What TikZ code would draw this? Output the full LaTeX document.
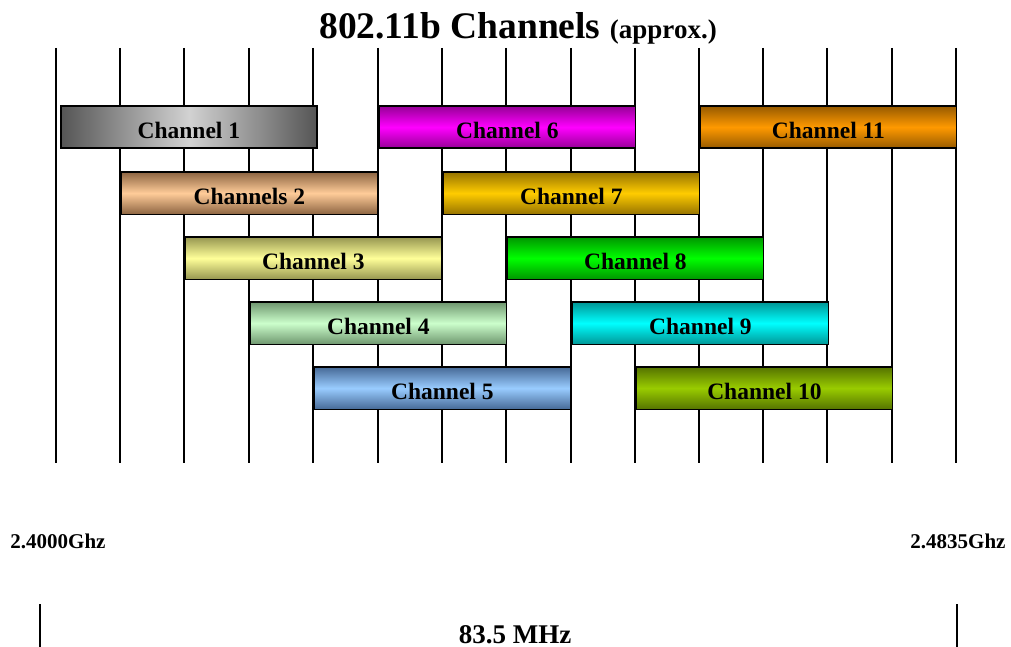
\documentclass[tikz,border=0pt]{standalone}
\usepackage{fontspec}
\setmainfont{Liberation Serif}
\definecolor{c2d}{RGB}{140,100,65}\definecolor{c2l}{RGB}{255,204,153}
\definecolor{c3d}{RGB}{150,150,80}\definecolor{c3l}{RGB}{255,255,153}
\definecolor{c4d}{RGB}{110,150,110}\definecolor{c4l}{RGB}{204,255,204}
\definecolor{c5d}{RGB}{70,105,150}\definecolor{c5l}{RGB}{153,204,255}
\definecolor{c6d}{RGB}{150,0,150}\definecolor{c6l}{RGB}{255,0,255}
\definecolor{c7d}{RGB}{150,115,0}\definecolor{c7l}{RGB}{255,204,0}
\definecolor{c8d}{RGB}{0,150,0}\definecolor{c8l}{RGB}{0,255,0}
\definecolor{c9d}{RGB}{0,150,150}\definecolor{c9l}{RGB}{0,255,255}
\definecolor{c10d}{RGB}{85,115,0}\definecolor{c10l}{RGB}{153,204,0}
\definecolor{c11d}{RGB}{150,90,0}\definecolor{c11l}{RGB}{255,153,0}
\definecolor{c1d}{RGB}{85,85,85}\definecolor{c1l}{RGB}{210,210,210}
\begin{document}
\begin{tikzpicture}[x=1pt,y=-1pt,
  gridline/.style={line width=1.5pt},
  chbox/.style 2 args={draw=black, line width=1.8pt, top color=#1, bottom color=#1, middle color=#2,
     minimum width=256pt, minimum height=42.5pt, inner sep=0pt, anchor=north west,
     text height=22pt, text depth=0pt,
     font=\fontsize{23.5}{26}\selectfont\bfseries},
  freqlabel/.style={font=\fontsize{21}{24}\selectfont\bfseries, inner sep=0pt, anchor=base},
  bar/.style={line width=1.6pt}]
\useasboundingbox (0,0) rectangle (1011,647);
% title
\node[anchor=base, inner sep=0pt] (title) at (518,39)
  {\fontsize{37.5}{40}\selectfont\bfseries 802.11b Channels {\fontsize{27}{29}\selectfont (approx.)}};
% grid lines
\foreach \x in {56,120,184,249,313,378,442,506,571,635,699,763,827,892,956}{
  \draw[gridline] (\x,48) -- (\x,463);
}
% channels
\node[chbox={c1d}{c1l}, left color=c1d, right color=c1d, middle color=c1l] (c1) at (60,105) {Channel 1};
\node[chbox={c6d}{c6l}] (c6) at (378.5,105) {Channel 6};
\node[chbox={c11d}{c11l}] (c11) at (699.5,105) {Channel 11};
\node[chbox={c2d}{c2l}] (c2) at (120.5,171) {Channels 2};
\node[chbox={c7d}{c7l}] (c7) at (442.5,171) {Channel 7};
\node[chbox={c3d}{c3l}] (c3) at (184.5,236) {Channel 3};
\node[chbox={c8d}{c8l}] (c8) at (506.5,236) {Channel 8};
\node[chbox={c4d}{c4l}] (c4) at (249.5,301) {Channel 4};
\node[chbox={c9d}{c9l}] (c9) at (571.5,301) {Channel 9};
\node[chbox={c5d}{c5l}] (c5) at (313.5,366) {Channel 5};
\node[chbox={c10d}{c10l}] (c10) at (635.5,366) {Channel 10};
% frequency labels
\node[freqlabel] (f1) at (58,548) {2.4000Ghz};
\node[freqlabel] (f2) at (958,548) {2.4835Ghz};
% span
\coordinate (b1t) at (40,604); \coordinate (b1b) at (40,647);
\coordinate (b2t) at (957,604); \coordinate (b2b) at (957,647);
\draw[bar] (b1t) -- (b1b);
\draw[bar] (b2t) -- (b2b);
\node[anchor=base, inner sep=0pt, font=\fontsize{27}{30}\selectfont\bfseries] (span) at (515,643) {83.5 MHz};
\end{tikzpicture}
\end{document}
